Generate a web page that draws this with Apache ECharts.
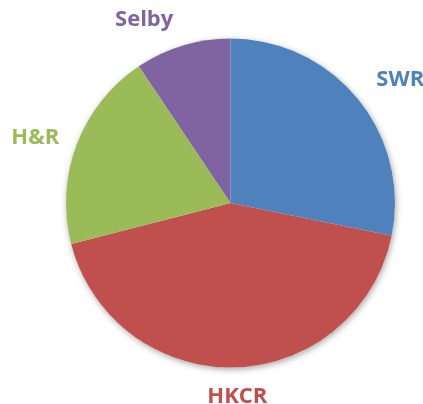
<!DOCTYPE html>
<html>
<head>
<meta charset="utf-8">
<script src="https://cdn.jsdelivr.net/npm/echarts@6/dist/echarts.min.js"></script>
<style>
html,body{margin:0;padding:0;background:#fff;}
#chart{width:423px;height:404px;}
</style>
</head>
<body>
<div id="chart"></div>
<script>
const categories = ['SWR', 'HKCR', 'H&R', 'Selby'];
const values = [28.2, 42.8, 19.6, 9.4];
const colors = ['#4F81BD', '#C0504D', '#9BBB59', '#8064A2'];

const CX = 230.5, CY = 203, R = 164.5, GAP = 19;
// small manual label nudges (px) to mimic the original's label placement
const labelNudge = {'SWR': [9, 8], 'HKCR': [2, 1], 'H&R': [0, 9], 'Selby': [-28, 8]};

const chart = echarts.init(document.getElementById('chart'), null, {renderer: 'canvas'});
const total = values.reduce((a, b) => a + b, 0);

chart.setOption({
  animation: false,
  backgroundColor: '#ffffff',
  series: [
    {
      type: 'pie',
      silent: true,
      center: [CX, CY],
      radius: [0, R],
      startAngle: 90,
      z: 1,
      label: {show: false},
      labelLine: {show: false},
      itemStyle: {
        color: '#ffffff',
        shadowBlur: 6,
        shadowColor: 'rgba(0,0,0,0.35)',
        shadowOffsetX: 1,
        shadowOffsetY: 2
      },
      data: [{value: total, name: 'bg'}]
    },
    {
      type: 'pie',
      center: [CX, CY],
      radius: [0, R],
      startAngle: 90,
      clockwise: true,
      z: 2,
      avoidLabelOverlap: false,
      itemStyle: {borderWidth: 0},
      label: {
        show: true,
        position: 'outside',
        formatter: '{b}',
        fontFamily: 'Open Sans',
        fontWeight: 'bold',
        fontSize: 22,
        overflow: 'none',
        width: 120,
        color: 'inherit'
      },
      labelLine: {show: true, length: 10, length2: 0, lineStyle: {opacity: 0}},
      labelLayout: function (p) {
        const pts = p.labelLinePoints;
        if (!pts) return {};
        const dx0 = pts[1][0] - pts[0][0], dy0 = pts[1][1] - pts[0][1];
        const len = Math.sqrt(dx0 * dx0 + dy0 * dy0) || 1;
        const dx = dx0 / len, dy = dy0 / len;
        const w = p.labelRect.width, h = p.labelRect.height * 0.8;
        const d = GAP + Math.abs(dx) * w / 2 + Math.abs(dy) * h / 2;
        const nudge = labelNudge[categories[p.dataIndex]] || [0, 0];
        return {
          x: pts[0][0] + dx * d + nudge[0],
          y: pts[0][1] + dy * d + nudge[1],
          align: 'center',
          verticalAlign: 'middle'
        };
      },
      data: categories.map((c, i) => ({
        name: c,
        value: values[i],
        itemStyle: {color: colors[i]},
        label: {color: colors[i]}
      }))
    }
  ]
});
</script>
</body>
</html>
